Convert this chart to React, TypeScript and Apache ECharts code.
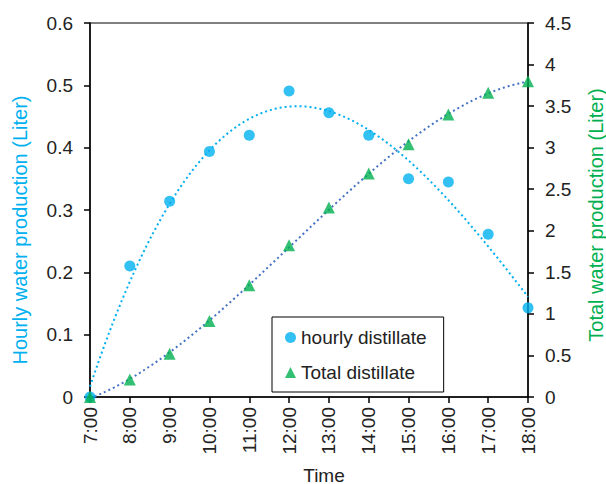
import React, { useEffect, useRef } from "react";
import * as echarts from "echarts";

const hours = ["7:00", "8:00", "9:00", "10:00", "11:00", "12:00", "13:00", "14:00", "15:00", "16:00", "17:00", "18:00"];
const hourly = [0, 0.21, 0.314, 0.394, 0.42, 0.491, 0.456, 0.42, 0.35, 0.345, 0.261, 0.143];
const total = [0, 0.21, 0.52, 0.915, 1.344, 1.826, 2.28, 2.69, 3.04, 3.4, 3.66, 3.8];
const leftTicks = { min: 0, max: 0.6, interval: 0.1 };
const rightTicks = { min: 0, max: 4.5, interval: 0.5 };

const CYAN = "#00B0F0";
const GREEN = "#00B050";
const TREND2 = "#4472C4";
const FONT = '"Liberation Sans", Arial, sans-serif';

function polyfit(ys: number[], order: number) {
  const n = order + 1;
  const A: number[][] = [];
  const b: number[] = [];
  for (let i = 0; i < n; i++) {
    A.push([]);
    for (let j = 0; j < n; j++) {
      let s = 0;
      ys.forEach((_, x) => (s += Math.pow(x, i + j)));
      A[i].push(s);
    }
    let sb = 0;
    ys.forEach((y, x) => (sb += y * Math.pow(x, i)));
    b.push(sb);
  }
  for (let c = 0; c < n; c++) {
    let p = c;
    for (let r = c + 1; r < n; r++) if (Math.abs(A[r][c]) > Math.abs(A[p][c])) p = r;
    [A[c], A[p]] = [A[p], A[c]];
    [b[c], b[p]] = [b[p], b[c]];
    for (let r = 0; r < n; r++) {
      if (r === c) continue;
      const f = A[r][c] / A[c][c];
      for (let k = c; k < n; k++) A[r][k] -= f * A[c][k];
      b[r] -= f * b[c];
    }
  }
  const coef = b.map((v, i) => v / A[i][i]);
  return (x: number) => coef.reduce((s, c, i) => s + c * Math.pow(x, i), 0);
}

function trend(ys: number[], order: number) {
  const f = polyfit(ys, order);
  const pts: number[][] = [];
  const last = ys.length - 1;
  for (let i = 0; i <= last * 40; i++) {
    const x = i / 40;
    pts.push([x, f(x)]);
  }
  return pts;
}

export default function App() {
  const ref = useRef<HTMLDivElement>(null);
  useEffect(() => {
    document.body.style.margin = "0";
    if (!ref.current) return;
    const chart = echarts.init(ref.current, null, { renderer: "svg" });
    const axisLine = { show: true, lineStyle: { color: "#000", width: 1.5 } };
    const axisTick = { show: true, length: 6, lineStyle: { color: "#000", width: 1.5 } };
    const label = { color: "#222", fontSize: 19, fontFamily: FONT };
    chart.setOption({
      animation: false,
      backgroundColor: "#fff",
      grid: { left: 90, right: 78, top: 23, bottom: 87, show: true, borderColor: "#000", borderWidth: 1, outerBoundsMode: "none" },
      xAxis: [
        {
          type: "category",
          data: hours,
          boundaryGap: false,
          axisLine,
          axisTick: { ...axisTick, alignWithLabel: true },
          axisLabel: { ...label, rotate: 90, margin: 10, interval: 0 },
          splitLine: { show: false },
        },
        { type: "value", min: 0, max: hours.length - 1, show: false, splitLine: { show: false } },
      ],
      yAxis: [
        {
          type: "value",
          ...leftTicks,
          axisLine,
          axisTick,
          axisLabel: { ...label, margin: 17 },
          splitLine: { show: false },
        },
        {
          type: "value",
          position: "right",
          ...rightTicks,
          axisLine,
          axisTick,
          axisLabel: { ...label, margin: 17 },
          splitLine: { show: false },
        },
      ],
      legend: {
        data: ["hourly distillate", "Total distillate"],
        orient: "vertical",
        left: 272,
        top: 317,
        padding: [11, 17, 10, 13],
        itemGap: 16,
        itemWidth: 11,
        itemHeight: 11,
        borderColor: "#000",
        borderWidth: 1,
        backgroundColor: "#fff",
        textStyle: { color: "#222", fontSize: 19, fontFamily: FONT, padding: [0, 0, 0, 0] },
      },
      graphic: [
        {
          type: "text",
          x: 20,
          y: 230,
          rotation: Math.PI / 2,
          style: { text: "Hourly water production (Liter)", fill: CYAN, font: `20px ${FONT}`, textAlign: "center", textVerticalAlign: "middle" },
        },
        {
          type: "text",
          x: 596,
          y: 215,
          rotation: Math.PI / 2,
          style: { text: "Total water production (Liter)", fill: GREEN, font: `20px ${FONT}`, textAlign: "center", textVerticalAlign: "middle" },
        },
        {
          type: "text",
          x: 324,
          y: 475,
          style: { text: "Time", fill: "#222", font: `19px ${FONT}`, textAlign: "center", textVerticalAlign: "middle" },
        },
      ],
      series: [
        {
          name: "hourly trend",
          type: "line",
          xAxisIndex: 1,
          yAxisIndex: 0,
          data: trend(hourly, 3),
          showSymbol: false,
          symbol: "none",
          lineStyle: { color: CYAN, width: 2, type: [2, 3] },
          silent: true,
          z: 1,
        },
        {
          name: "total trend",
          type: "line",
          xAxisIndex: 1,
          yAxisIndex: 1,
          data: trend(total, 3),
          showSymbol: false,
          symbol: "none",
          lineStyle: { color: TREND2, width: 2, type: [2, 3] },
          silent: true,
          z: 1,
        },
        {
          name: "hourly distillate",
          type: "scatter",
          xAxisIndex: 0,
          yAxisIndex: 0,
          data: hourly,
          symbol: "circle",
          symbolSize: 11,
          itemStyle: { color: CYAN },
          z: 3,
        },
        {
          name: "Total distillate",
          type: "scatter",
          xAxisIndex: 0,
          yAxisIndex: 1,
          data: total,
          symbol: "triangle",
          symbolSize: 12,
          itemStyle: { color: GREEN },
          z: 4,
        },
      ],
    });
    return () => chart.dispose();
  }, []);
  return <div ref={ref} style={{ width: 606, height: 484 }} />;
}
